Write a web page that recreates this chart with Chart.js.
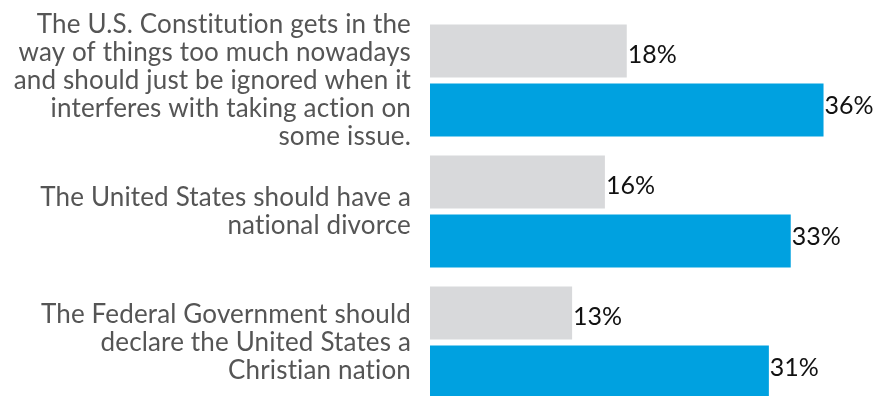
<!DOCTYPE html>
<html>
<head>
<meta charset="utf-8">
<script src="https://cdn.jsdelivr.net/npm/chart.js@4/dist/chart.umd.min.js"></script>
<style>
  html, body { margin: 0; padding: 0; background: #fff; overflow: hidden; }
  #wrap { position: relative; width: 876px; height: 408px; }
</style>
</head>
<body>
<div id="wrap"><canvas id="chart"></canvas></div>
<script>
// Statements (multi-line category labels)
const categories = [
  ["The U.S. Constitution gets in the", "way of things too much nowadays", "and should just be ignored when it", "interferes with taking action on", "some issue."],
  ["The United States should have a", "national divorce"],
  ["The Federal Government should", "declare the United States a", "Christian nation"]
];
// Share agreeing, percent
const greyValues = [18, 16, 13];
const blueValues = [36, 33, 31];

// Slight tracking keeps the text free of "ti"/"fi" ligatures
const textTracking = {
  id: 'textTracking',
  beforeDraw(chart) { chart.ctx.letterSpacing = '0.15px'; }
};

// Draws the "NN%" value just past the end of each bar
const valueLabels = {
  id: 'valueLabels',
  afterDatasetsDraw(chart) {
    const ctx = chart.ctx;
    ctx.save();
    ctx.letterSpacing = '0px';
    ctx.font = '25px Lato';
    ctx.fillStyle = '#111';
    ctx.textAlign = 'left';
    ctx.textBaseline = 'middle';
    chart.data.datasets.forEach((ds, di) => {
      const meta = chart.getDatasetMeta(di);
      const shift = di === 0 ? 4 : -4;
      meta.data.forEach((bar, i) => {
        ctx.fillText(ds.data[i] + '%', bar.x + 1, bar.y + shift);
      });
    });
    ctx.restore();
  }
};

new Chart(document.getElementById('chart'), {
  type: 'bar',
  data: {
    labels: categories,
    datasets: [
      { data: greyValues, backgroundColor: '#d8d9db', categoryPercentage: 0.9, barPercentage: 0.9 },
      { data: blueValues, backgroundColor: '#00a1e0', categoryPercentage: 0.9, barPercentage: 0.9 }
    ]
  },
  options: {
    indexAxis: 'y',
    responsive: true,
    maintainAspectRatio: false,
    animation: false,
    layout: { padding: { top: 15, right: 0, bottom: 0, left: 0 } },
    plugins: { legend: { display: false }, tooltip: { enabled: false } },
    scales: {
      x: {
        display: false,
        min: 0,
        max: 40.8
      },
      y: {
        grid: { display: false, drawTicks: false },
        border: { display: false },
        ticks: {
          autoSkip: false,
          color: '#555',
          padding: 19,
          font: { family: 'Lato', size: 26, lineHeight: 1.08 }
        },
        afterFit(scale) {
          scale.width = 430;
          scale.paddingTop = 0;
          scale.paddingBottom = 0;
        }
      }
    }
  },
  plugins: [textTracking, valueLabels]
});
</script>
</body>
</html>
